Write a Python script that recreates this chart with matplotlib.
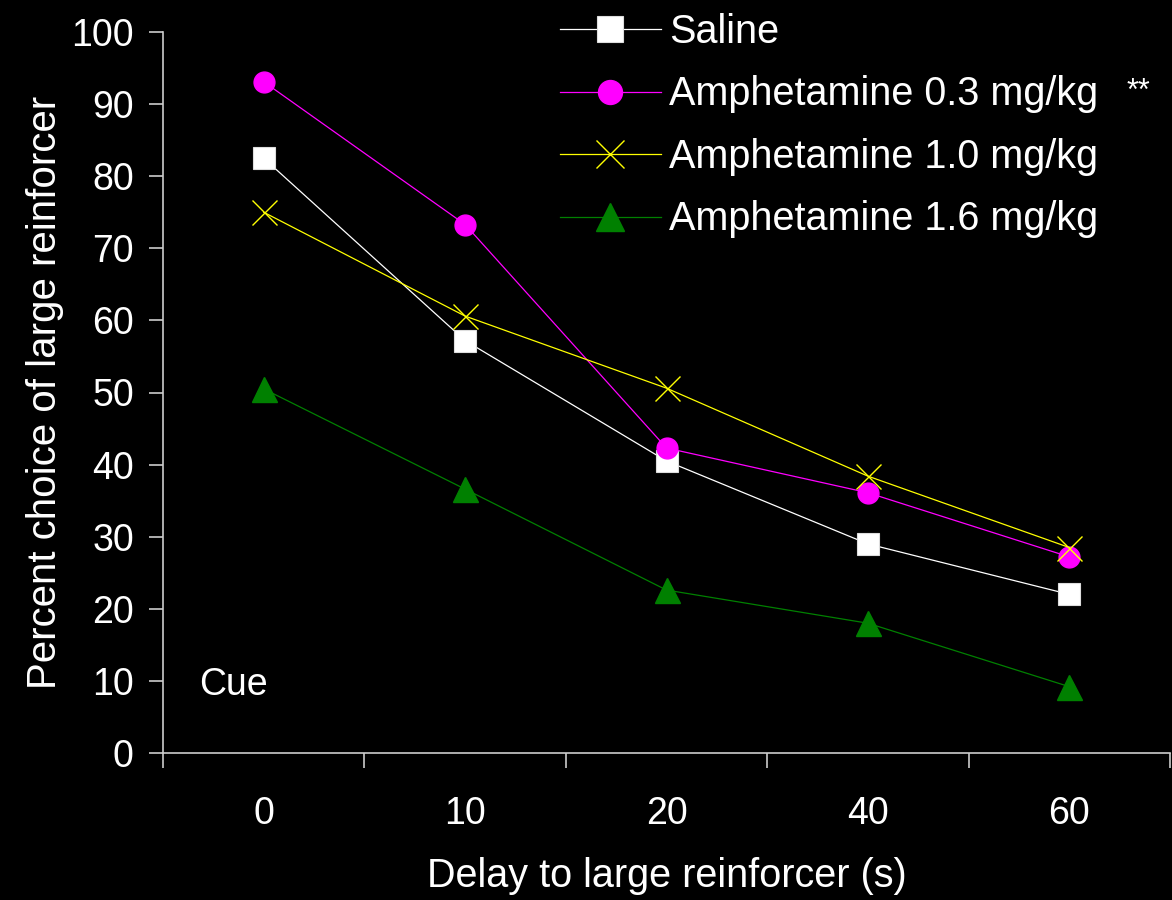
import matplotlib
matplotlib.use("Agg")
import matplotlib.pyplot as plt
from matplotlib.ticker import FixedLocator

plt.rcParams['font.family'] = ['Liberation Sans', 'DejaVu Sans']

delays = ["0", "10", "20", "40", "60"]
saline = [82.5, 57.2, 40.5, 29.0, 22.0]
amph03 = [93.1, 73.3, 42.3, 36.1, 27.2]
amph10 = [75.0, 60.6, 50.6, 38.4, 28.5]
amph16 = [50.5, 36.6, 22.6, 18.0, 9.2]

fig = plt.figure(figsize=(11.72, 9.0), dpi=100, facecolor='black')
ax = fig.add_axes([163/1172, 1-753/900, (1170-163)/1172, (753-32)/900])
ax.set_facecolor('black')

x = list(range(len(delays)))
lw = 0.9
ax.plot(x, saline, color='white', lw=lw, marker='s', ms=16, mfc='white', mec='#dddddd', mew=0.8, label='Saline', zorder=3)
ax.plot(x, amph03, color='#ff00ff', lw=lw, marker='o', ms=15, mfc='#ff00ff', mec='#ff00ff', label='Amphetamine 0.3 mg/kg', zorder=3)
ax.plot(x, amph10, color='#ffff00', lw=lw, marker='x', ms=18, mew=1.0, label='Amphetamine 1.0 mg/kg', zorder=3)
ax.plot(x, amph16, color='#008000', lw=lw, marker='^', ms=18, mfc='#008000', mec='#008000', label='Amphetamine 1.6 mg/kg', zorder=3)

ax.set_xlim(-0.5, len(delays) - 0.5)
ax.set_ylim(0, 100)
ax.set_yticks(range(0, 101, 10))
ax.set_xticks(x)
ax.set_xticklabels(delays)
ax.xaxis.set_minor_locator(FixedLocator([i - 0.5 for i in range(len(delays) + 1)]))

spine_col = '#cccccc'
for s in ['top', 'right']:
    ax.spines[s].set_visible(False)
for s in ['left', 'bottom']:
    ax.spines[s].set_color(spine_col)
    ax.spines[s].set_linewidth(1.2)

tfs = 27
lfs = 28.5
ax.tick_params(axis='y', colors='white', labelsize=tfs, length=10, width=1.2, color=spine_col, pad=11)
ax.tick_params(axis='x', which='major', length=0, labelsize=tfs, colors='white', pad=31)
ax.tick_params(axis='x', which='minor', length=11, width=1.2, color=spine_col, direction='out')

ax.set_ylabel('Percent choice of large reinforcer', color='white', fontsize=29, labelpad=5)
ax.set_xlabel('Delay to large reinforcer (s)', color='white', fontsize=lfs, labelpad=18)

ax.text(-0.32, 9.4, 'Cue', color='white', fontsize=tfs, ha='left', va='center')

leg = fig.legend(loc='upper left', bbox_to_anchor=(544/1172, 1 + 3/900), frameon=False,
                 fontsize=lfs, handlelength=2.55, handletextpad=0.2, labelspacing=0.62,
                 borderaxespad=0, markerscale=1.15)
for t in leg.get_texts():
    t.set_color('white')
fig.text(1127/1172, 1 - 92/900, '**', color='white', fontsize=22, ha='left', va='center')

fig.savefig('out.png', dpi=100, facecolor='black')
